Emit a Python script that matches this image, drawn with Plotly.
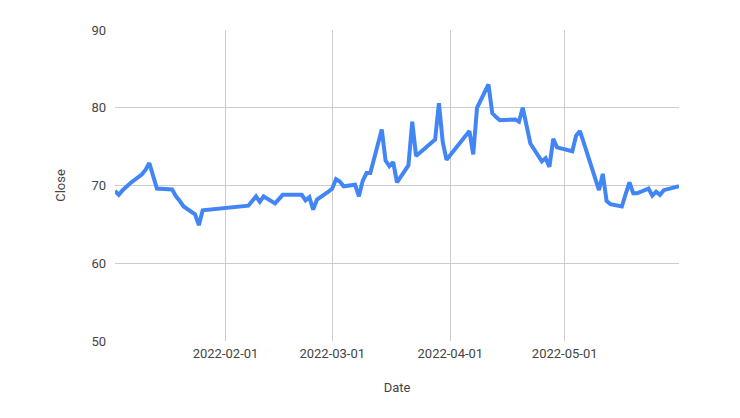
import plotly.graph_objects as go

dates = [
    "2022-01-03", "2022-01-04", "2022-01-05", "2022-01-06", "2022-01-07",
    "2022-01-10", "2022-01-11", "2022-01-12", "2022-01-13", "2022-01-14",
    "2022-01-18", "2022-01-19", "2022-01-20", "2022-01-21", "2022-01-24",
    "2022-01-25", "2022-01-26",
    "2022-02-07", "2022-02-08", "2022-02-09", "2022-02-10", "2022-02-11",
    "2022-02-14", "2022-02-15", "2022-02-16", "2022-02-17", "2022-02-18",
    "2022-02-21", "2022-02-22", "2022-02-23", "2022-02-24", "2022-02-25",
    "2022-02-28",
    "2022-03-01", "2022-03-02", "2022-03-03", "2022-03-04", "2022-03-07",
    "2022-03-08", "2022-03-09", "2022-03-10", "2022-03-11", "2022-03-14",
    "2022-03-15", "2022-03-16", "2022-03-17", "2022-03-18", "2022-03-21",
    "2022-03-22", "2022-03-23", "2022-03-24", "2022-03-25", "2022-03-28",
    "2022-03-29", "2022-03-30", "2022-03-31",
    "2022-04-06", "2022-04-07", "2022-04-08", "2022-04-11", "2022-04-12",
    "2022-04-13", "2022-04-14", "2022-04-18", "2022-04-19", "2022-04-20",
    "2022-04-21", "2022-04-22", "2022-04-25", "2022-04-26", "2022-04-27",
    "2022-04-28", "2022-04-29",
    "2022-05-02", "2022-05-03", "2022-05-04", "2022-05-05", "2022-05-06",
    "2022-05-09", "2022-05-10", "2022-05-11", "2022-05-12", "2022-05-13",
    "2022-05-16", "2022-05-17", "2022-05-18", "2022-05-19", "2022-05-20",
    "2022-05-23", "2022-05-24", "2022-05-25", "2022-05-26", "2022-05-27",
    "2022-05-31",
]

close = [
    69.3, 68.8, 69.4, 69.9, 70.3,
    71.4, 72.0, 72.9, 71.2, 69.6,
    69.5, 68.6, 68.0, 67.3, 66.3,
    64.9, 66.8,
    67.4, 68.0, 68.6, 67.9, 68.6,
    67.7, 68.3, 68.8, 68.8, 68.8,
    68.8, 68.1, 68.5, 66.9, 68.2,
    69.2,
    69.6, 70.8, 70.5, 69.9, 70.1,
    68.6, 70.6, 71.6, 71.6, 77.2,
    73.2, 72.5, 73.0, 70.4, 72.6,
    78.2, 73.8, 74.2, 74.6, 75.9,
    80.6, 75.6, 73.3,
    77.0, 74.0, 80.0, 83.0, 79.3,
    78.8, 78.4, 78.5, 78.2, 80.0,
    77.7, 75.4, 73.1, 73.5, 72.4,
    76.0, 74.9,
    74.6, 74.4, 76.4, 77.0, 75.5,
    71.0, 69.4, 71.5, 68.0, 67.6,
    67.3, 68.9, 70.4, 69.0, 69.0,
    69.6, 68.7, 69.2, 68.8, 69.4,
    69.9,
]

x_ticks = ["2022-02-01", "2022-03-01", "2022-04-01", "2022-05-01"]
y_ticks = [50, 60, 70, 80, 90]

fig = go.Figure(
    go.Scatter(
        x=dates, y=close, mode="lines",
        line=dict(color="#4285F4", width=4),
        hoverinfo="skip",
    )
)

fig.update_layout(
    width=740, height=418,
    margin=dict(l=107, r=69, t=22, b=85),
    paper_bgcolor="white", plot_bgcolor="white",
    font=dict(family="Roboto, Arial, sans-serif", size=13, color="#444444"),
    showlegend=False,
)
fig.update_xaxes(
    range=["2022-01-03", "2022-05-31"],
    tickvals=x_ticks, ticktext=x_ticks,
    showgrid=True, gridcolor="#cccccc", gridwidth=1,
    zeroline=False, showline=False, ticks="",
    ticklabelstandoff=3,
    title=dict(text="Date", standoff=22, font=dict(size=13, color="#444444")),
    tickfont=dict(size=13, color="#444444"),
)
fig.update_yaxes(
    range=[50, 90], tickvals=y_ticks,
    showgrid=True, gridcolor="#cccccc", gridwidth=1,
    zeroline=False, showline=False, ticks="",
    ticklabelstandoff=8,
    title=dict(text="Close", standoff=22, font=dict(size=13, color="#444444")),
    tickfont=dict(size=13, color="#444444"),
)

fig.write_html("out.html")
